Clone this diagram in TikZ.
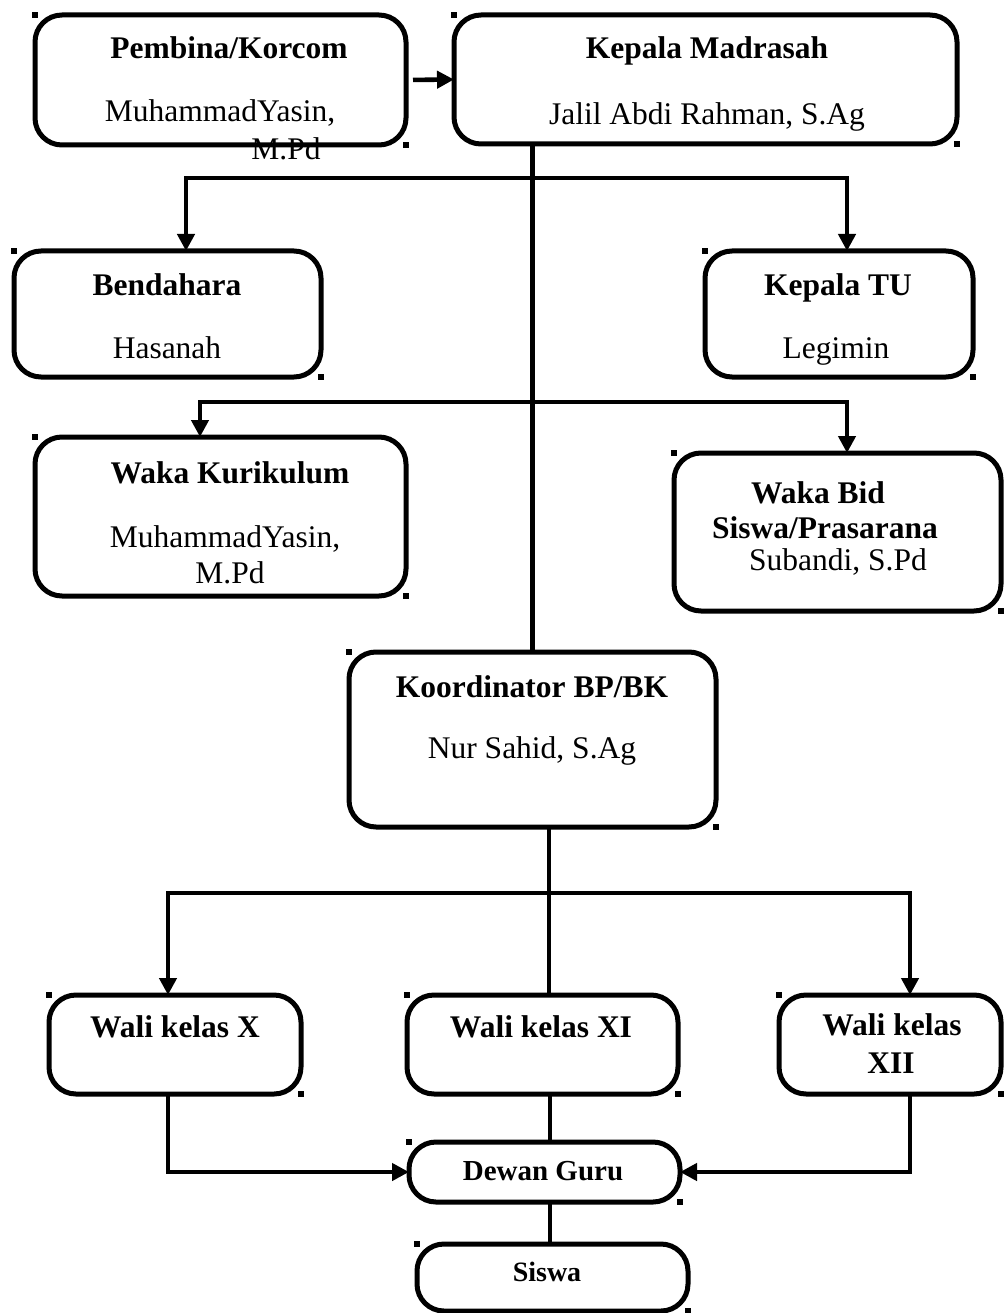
\documentclass[tikz,border=0pt]{standalone}
\usepackage{fontspec}
\setmainfont{Liberation Serif}
\usetikzlibrary{arrows.meta}
\newcommand\orgbox[5]{%
  \node[orgbox, minimum width={(#4-#2)*1pt}, minimum height={(#5-#3)*1pt}] (#1) at ({(#2+#4)/2},{(#3+#5)/2}) {};
  \fill ([shift={(-3,-3)}]#1.north west) rectangle ++(6,6);
  \fill ([shift={(-3,-3)}]#1.south east) rectangle ++(6,6);
}
\begin{document}
\begin{tikzpicture}[x=1pt,y=-1pt,
  orgbox/.style={draw, line width=5pt, rounded corners=27pt, rectangle, inner sep=0pt, outer sep=0pt},
  conn/.style={line width=4.6pt},
  arr/.style={-{Triangle[length=17pt,width=17pt]}},
  tb/.style={font=\fontsize{31.5}{38}\selectfont\bfseries, anchor=base, inner sep=0pt},
  tr/.style={font=\fontsize{31.5}{38}\selectfont, anchor=base, inner sep=0pt},
  ts/.style={font=\fontsize{29}{35}\selectfont\bfseries, anchor=base, inner sep=0pt},
  tss/.style={font=\fontsize{28}{34}\selectfont\bfseries, anchor=base, inner sep=0pt}]
\useasboundingbox (0,0) rectangle (1005,1313);

% boxes
\orgbox{pemb}{35}{15}{406}{145}
\orgbox{kep}{454}{15}{957}{144}
\orgbox{bend}{14}{251}{321}{377}
\orgbox{ktu}{705}{251}{973}{377}
\orgbox{wkur}{35}{437}{406}{596}
\orgbox{wbid}{674}{453}{1001}{611}
\orgbox{koor}{349}{652}{716}{827}
\orgbox{wx}{49}{995}{301}{1094}
\orgbox{wxi}{407}{995}{678}{1094}
\orgbox{wxii}{779}{995}{1001}{1094}
\orgbox{dg}{409}{1142}{680}{1202}
\orgbox{sis}{417}{1244}{688}{1311}

% texts
\node[tb] (t1) at (229,59) {Pembina/Korcom};
\node[tr] (t1b) at (220,122) {MuhammadYasin,};
\node[tr] (t1c) at (286,160) {M.Pd};
\node[tb] (t2) at (707,59) {Kepala Madrasah};
\node[tr] (t2b) at (707,125) {Jalil Abdi Rahman, S.Ag};
\node[tb] (t3) at (167,295) {Bendahara};
\node[tr] (t3b) at (167,358) {Hasanah};
\node[tb] (t4) at (838,295) {Kepala TU};
\node[tr] (t4b) at (836,358) {Legimin};
\node[tb] (t5) at (230,483) {Waka Kurikulum};
\node[tr] (t5b) at (225,547) {MuhammadYasin,};
\node[tr] (t5c) at (230,583) {M.Pd};
\node[tb] (t6) at (818,503) {Waka Bid};
\node[tb] (t6b) at (825,538) {Siswa/Prasarana};
\node[tr] (t6c) at (838,570) {Subandi, S.Pd};
\node[tb] (t7) at (532,697) {Koordinator BP/BK};
\node[tr] (t7b) at (532,758) {Nur Sahid, S.Ag};
\node[tb] (t8) at (175,1037) {Wali kelas X};
\node[tb] (t9) at (541,1037) {Wali kelas XI};
\node[tb] (t10) at (892,1035) {Wali kelas};
\node[tb] (t10b) at (891,1073) {XII};
\node[ts] (t11) at (543,1180) {Dewan Guru};
\node[tss] (t12) at (547,1281) {Siswa};

% connectors
\draw[conn,arr,shorten <=7pt] (pemb.east) -- (kep.west);
\draw[conn] (kep.south -| koor.north) -- (koor.north);

\coordinate (h1l) at (186,178);
\coordinate (h1r) at (847,178);
\draw[conn,arr] (h1r) -- (h1l) -- (h1l |- bend.north);
\draw[conn,arr] (h1l) -- (h1r) -- (h1r |- ktu.north);

\coordinate (h2l) at (200,402);
\coordinate (h2r) at (847,402);
\draw[conn,arr] (h2r) -- (h2l) -- (h2l |- wkur.north);
\draw[conn,arr] (h2l) -- (h2r) -- (h2r |- wbid.north);

\coordinate (k1) at (549,893);
\coordinate (h3l) at (168,893);
\coordinate (h3r) at (910,893);
\draw[conn] (k1 |- koor.south) -- (k1 |- wxi.north);
\draw[conn,arr] (h3r) -- (h3l) -- (h3l |- wx.north);
\draw[conn,arr] (h3l) -- (h3r) -- (h3r |- wxii.north);

\coordinate (m1) at (550,1170);
\draw[conn] (m1 |- wxi.south) -- (m1 |- dg.north);
\draw[conn] (m1 |- dg.south) -- (m1 |- sis.north);

\draw[conn,arr] (h3l |- wx.south) |- (dg.west);
\draw[conn,arr] (h3r |- wxii.south) |- (dg.east);
\end{tikzpicture}
\end{document}
